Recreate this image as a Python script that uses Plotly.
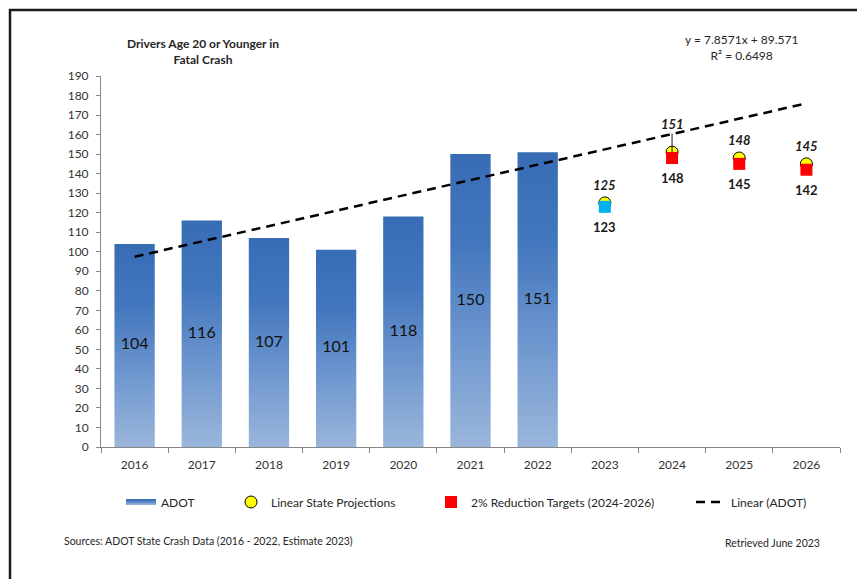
import numpy as np
import plotly.graph_objects as go

# ---------------- data ----------------
years = ["2016", "2017", "2018", "2019", "2020", "2021", "2022", "2023", "2024", "2025", "2026"]
adot_years = ["2016", "2017", "2018", "2019", "2020", "2021", "2022"]
adot_values = [104, 116, 107, 101, 118, 150, 151]
proj_years = ["2023", "2024", "2025", "2026"]
proj_values = [125, 151, 148, 145]
estimate_years = ["2023"]
estimate_values = [123]
target_years = ["2024", "2025", "2026"]
target_values = [148, 145, 142]
y_ticks = list(range(0, 200, 10))

FONT = "Lato, 'Liberation Sans', Arial, sans-serif"
pos = {y: i for i, y in enumerate(years)}

# page body has an 8px margin; reference pixel coords are page coords
OFF = 8
W, H = 865 - OFF, 579 - OFF
# plot-area geometry in reference (page) pixels
L, R, T, B = 101, 840, 76, 447
def px(p):
    return (p - L) / (R - L)
def py(p):
    return (B - p) / (B - T)

fig = go.Figure()

# ---------------- gradient bars ----------------
half = 0.3
bar_scale = [[0.0, "#9ab6db"], [0.35, "#6f97cf"], [0.7, "#4276bd"], [1.0, "#386db6"]]
for k, (yr, v) in enumerate(zip(adot_years, adot_values)):
    c = pos[yr]
    fig.add_trace(go.Scatter(
        x=[c - half, c + half, c + half, c - half, c - half],
        y=[0, 0, v, v, 0],
        mode="none", fill="toself",
        fillgradient=dict(type="vertical", colorscale=bar_scale, start=0, stop=v),
        name="ADOT", legend="legend", showlegend=(k == 0), legendgroup="adot",
        hoverinfo="skip",
    ))

fig.add_trace(go.Scatter(
    x=[pos[y] for y in adot_years], y=[v / 2 for v in adot_values],
    mode="text", text=[str(v) for v in adot_values],
    textfont=dict(family=FONT, size=16, color="#111111"),
    showlegend=False, hoverinfo="skip",
))

# ---------------- linear trend (Excel style) ----------------
xs = np.arange(1, len(adot_values) + 1)
slope, intercept = np.polyfit(xs, adot_values, 1)
pred = slope * xs + intercept
yv = np.array(adot_values)
r2 = 1 - np.sum((yv - pred) ** 2) / np.sum((yv - yv.mean()) ** 2)
x_end = np.array([1, len(years)])
fig.add_trace(go.Scatter(
    x=x_end - 1, y=slope * x_end + intercept,
    mode="lines", line=dict(color="black", width=2.5, dash="9px,6px"),
    name="Linear (ADOT)", legend="legend4", hoverinfo="skip",
))

# ---------------- projections / targets ----------------
fig.add_trace(go.Scatter(
    x=[pos[y] for y in proj_years], y=proj_values, mode="markers",
    marker=dict(symbol="circle", size=12, color="#ffff00", line=dict(color="black", width=1)),
    name="Linear State Projections", legend="legend2",
))
fig.add_trace(go.Scatter(
    x=[pos[y] for y in estimate_years], y=estimate_values, mode="markers",
    marker=dict(symbol="square", size=12, color="#00b0f0"),
    showlegend=False, name="Estimate 2023",
))
fig.add_trace(go.Scatter(
    x=[pos[y] for y in target_years], y=target_values, mode="markers",
    marker=dict(symbol="square", size=12, color="#ff0000"),
    name="2% Reduction Targets (2024-2026)", legend="legend3",
))

# ---------------- layout ----------------
leg_y = py(502)
def legend_at(p):
    return dict(orientation="h", x=px(p), y=leg_y, xanchor="left", yanchor="middle",
                bgcolor="rgba(0,0,0,0)", font=dict(family=FONT, size=12, color="#262626"))

fig.update_layout(
    width=W, height=H,
    margin=dict(l=L - OFF, r=W - (R - OFF), t=T - OFF, b=H - (B - OFF)),
    paper_bgcolor="white", plot_bgcolor="white",
    font=dict(family=FONT, size=12, color="#333333"),
    xaxis=dict(
        range=[-0.5, len(years) - 0.5], tickvals=list(range(len(years))), ticktext=years,
        ticks="", showline=True, linecolor="#868686", linewidth=1, showgrid=False, zeroline=False,
        tickfont=dict(family=FONT, size=12, color="#333333"), ticklabelstandoff=7,
        minor=dict(ticks="outside", ticklen=5, tickcolor="#868686", tick0=-0.5, dtick=1, showgrid=False),
        fixedrange=True,
    ),
    yaxis=dict(
        range=[0, 190], tickvals=y_ticks, ticks="outside", ticklen=4, tickcolor="#868686",
        showline=True, linecolor="#868686", linewidth=1, showgrid=False, zeroline=False,
        tickfont=dict(family=FONT, size=12, color="#333333"), ticklabelstandoff=5, fixedrange=True,
    ),
    legend=legend_at(121),
    legend2=legend_at(231),
    legend3=legend_at(431),
    legend4=legend_at(691),
    showlegend=True,
)

annotations = [
    dict(text="<b>Drivers Age 20 or Younger in<br>Fatal Crash</b>", x=px(203), y=py(52),
         xanchor="center", yanchor="middle", font=dict(family=FONT, size=12, color="#262626"),
         xref="paper", yref="paper", showarrow=False),
    dict(text=f"y = {slope:.4f}x + {intercept:.3f}<br>R² = {r2:.4f}", x=px(741), y=py(47),
         xanchor="center", yanchor="middle", font=dict(family=FONT, size=12, color="#262626"),
         xref="paper", yref="paper", showarrow=False),
    dict(text="Sources: ADOT State Crash Data (2016 - 2022, Estimate 2023)", x=px(62), y=py(541),
         xanchor="left", yanchor="middle", font=dict(family=FONT, size=10.5, color="#262626"),
         xref="paper", yref="paper", showarrow=False),
    dict(text="Retrieved June 2023", x=px(822), y=py(543),
         xanchor="right", yanchor="middle", font=dict(family=FONT, size=10.5, color="#262626"),
         xref="paper", yref="paper", showarrow=False),
]

# data labels: projections above (italic bold), targets below (bold)
lab_font_i = dict(family=FONT, size=13, color="#1a1a1a", weight="bold", style="italic")
lab_font = dict(family=FONT, size=13, color="#1a1a1a", weight="bold")
proj_label_lift = [18, 28, 18, 18]   # label offset in px (2024 label moved up with leader line)
for yr, v, lift in zip(proj_years, proj_values, proj_label_lift):
    if lift > 18:
        annotations.append(dict(x=pos[yr], y=v, xref="x", yref="y", text=f"<i>{v}</i>",
                                showarrow=True, arrowhead=0, arrowwidth=1, arrowcolor="#1a1a1a",
                                ax=0, ay=-lift, standoff=0, font=lab_font_i))
    else:
        annotations.append(dict(x=pos[yr], y=v, xref="x", yref="y", text=f"<i>{v}</i>",
                                showarrow=False, yshift=lift, font=lab_font_i))
for yr, v in zip(estimate_years + target_years, estimate_values + target_values):
    annotations.append(dict(x=pos[yr], y=v, xref="x", yref="y", text=str(v),
                            showarrow=False, yshift=-20, font=lab_font))
fig.update_layout(annotations=annotations)

# chart border (top and left edges visible in the crop)
fig.add_shape(type="line", xref="paper", yref="paper", x0=px(9), x1=px(870), y0=py(10), y1=py(10),
              line=dict(color="#1a1a1a", width=2.5))
fig.add_shape(type="line", xref="paper", yref="paper", x0=px(10), x1=px(10), y0=py(9), y1=py(585),
              line=dict(color="#1a1a1a", width=2.5))

fig.write_html("out.html")
